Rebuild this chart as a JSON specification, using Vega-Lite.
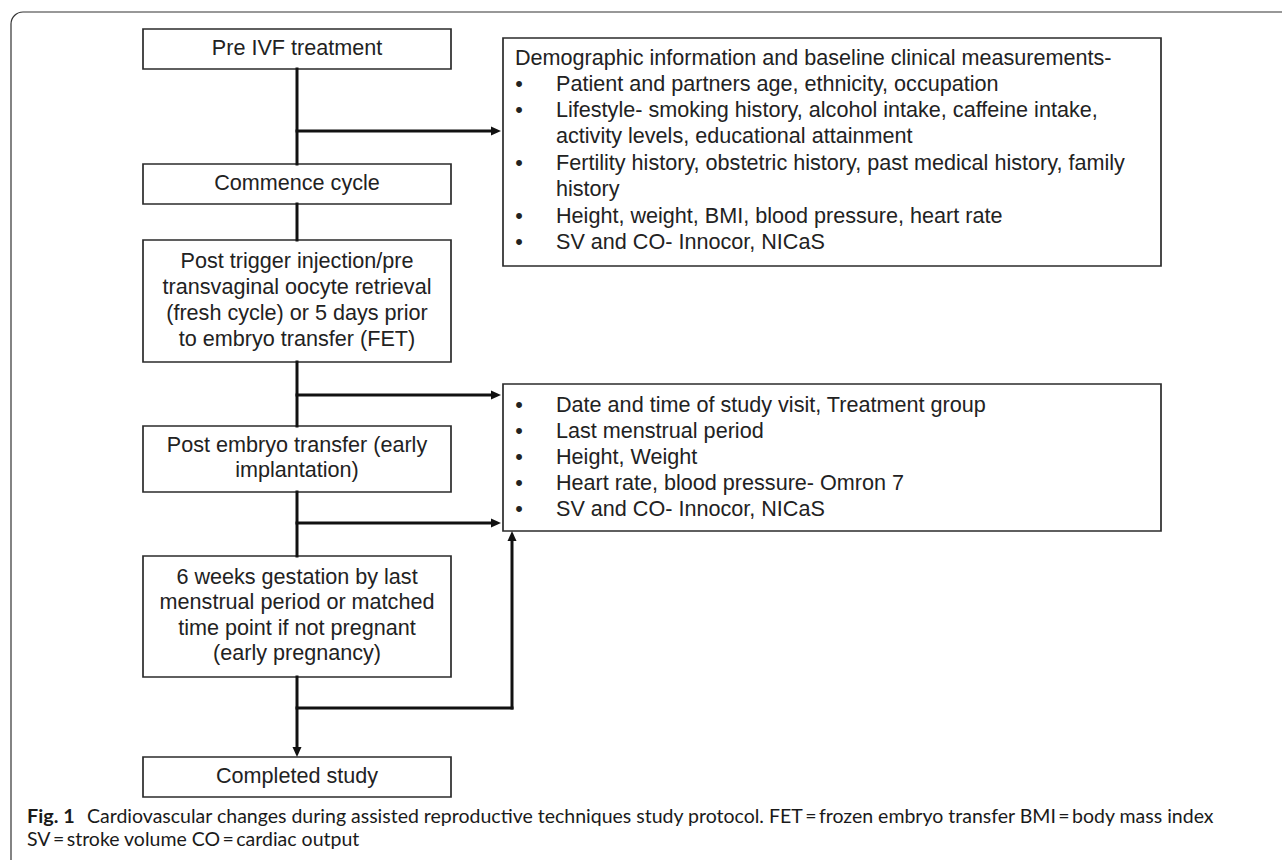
{
  "$schema": "https://vega.github.io/schema/vega-lite/v6.json",
  "width": 1282,
  "height": 860,
  "padding": 0,
  "autosize": {"type": "none"},
  "background": "white",
  "config": {"view": {"stroke": null}},
  "datasets": {
    "frame": [{"x1": 11, "x2": 1400, "y1": 12, "y2": 1000}],
    "boxes": [
      {"id": "b1", "x1": 143, "x2": 451, "y1": 29, "y2": 69},
      {"id": "b2", "x1": 143, "x2": 451, "y1": 164, "y2": 204},
      {"id": "b3", "x1": 143, "x2": 451, "y1": 240, "y2": 362},
      {"id": "b4", "x1": 143, "x2": 451, "y1": 426, "y2": 492},
      {"id": "b5", "x1": 143, "x2": 451, "y1": 556, "y2": 677},
      {"id": "b6", "x1": 143, "x2": 451, "y1": 757, "y2": 797},
      {"id": "r1", "x1": 503, "x2": 1161, "y1": 38, "y2": 266},
      {"id": "r2", "x1": 503, "x2": 1161, "y1": 384, "y2": 531}
    ],
    "lines": [
      {"x1": 297, "x2": 297, "y1": 69, "y2": 164},
      {"x1": 297, "x2": 492, "y1": 131, "y2": 131},
      {"x1": 297, "x2": 297, "y1": 204, "y2": 240},
      {"x1": 297, "x2": 297, "y1": 362, "y2": 426},
      {"x1": 297, "x2": 492, "y1": 395, "y2": 395},
      {"x1": 297, "x2": 297, "y1": 492, "y2": 556},
      {"x1": 297, "x2": 492, "y1": 523, "y2": 523},
      {"x1": 297, "x2": 297, "y1": 677, "y2": 749},
      {"x1": 297, "x2": 512, "y1": 708, "y2": 708},
      {"x1": 512, "x2": 512, "y1": 708, "y2": 540}
    ],
    "arrows": [
      {"x": 501, "y": 131, "dir": "right"},
      {"x": 501, "y": 395, "dir": "right"},
      {"x": 501, "y": 523, "dir": "right"},
      {"x": 297, "y": 757, "dir": "down"},
      {"x": 512, "y": 531, "dir": "up"}
    ],
    "ctext": [
      {"t": "Pre IVF treatment", "x": 297, "y": 49},
      {"t": "Commence cycle", "x": 297, "y": 184},
      {"t": "Post trigger injection/pre", "x": 297, "y": 262},
      {"t": "transvaginal oocyte retrieval", "x": 297, "y": 288},
      {"t": "(fresh cycle) or 5 days prior", "x": 297, "y": 314},
      {"t": "to embryo transfer (FET)", "x": 297, "y": 340},
      {"t": "Post embryo transfer (early", "x": 297, "y": 446},
      {"t": "implantation)", "x": 297, "y": 471},
      {"t": "6 weeks gestation by last", "x": 297, "y": 578},
      {"t": "menstrual period or matched", "x": 297, "y": 603},
      {"t": "time point if not pregnant", "x": 297, "y": 629},
      {"t": "(early pregnancy)", "x": 297, "y": 654},
      {"t": "Completed study", "x": 297, "y": 777}
    ],
    "ltext": [
      {"t": "Demographic information and baseline clinical measurements-", "x": 515, "y": 59},
      {"t": "Patient and partners age, ethnicity, occupation", "x": 556, "y": 85},
      {"t": "Lifestyle- smoking history, alcohol intake, caffeine intake,", "x": 556, "y": 111},
      {"t": "activity levels, educational attainment", "x": 556, "y": 137},
      {"t": "Fertility history, obstetric history, past medical history, family", "x": 556, "y": 164},
      {"t": "history", "x": 556, "y": 190},
      {"t": "Height, weight, BMI, blood pressure, heart rate", "x": 556, "y": 217},
      {"t": "SV and CO- Innocor, NICaS", "x": 556, "y": 243},
      {"t": "Date and time of study visit, Treatment group", "x": 556, "y": 406},
      {"t": "Last menstrual period", "x": 556, "y": 432},
      {"t": "Height, Weight", "x": 556, "y": 458},
      {"t": "Heart rate, blood pressure- Omron 7", "x": 556, "y": 484},
      {"t": "SV and CO- Innocor, NICaS", "x": 556, "y": 510}
    ],
    "bullets": [
      {"x": 519, "y": 85}, {"x": 519, "y": 111}, {"x": 519, "y": 164},
      {"x": 519, "y": 217}, {"x": 519, "y": 243},
      {"x": 519, "y": 406}, {"x": 519, "y": 432}, {"x": 519, "y": 458},
      {"x": 519, "y": 484}, {"x": 519, "y": 510}
    ],
    "capbold": [{"t": "Fig. 1", "x": 27, "y": 823}],
    "caption": [
      {"t": "Cardiovascular changes during assisted reproductive techniques study protocol. FET\u2009=\u2009frozen embryo transfer BMI\u2009=\u2009body mass index", "x": 87, "y": 823},
      {"t": "SV\u2009=\u2009stroke volume CO\u2009=\u2009cardiac output", "x": 27, "y": 846}
    ]
  },
  "layer": [
    {
      "data": {"name": "frame"},
      "mark": {"type": "rect", "fill": null, "fillOpacity": 0, "stroke": "#333333", "strokeWidth": 1.2, "cornerRadius": 12, "clip": true},
      "encoding": {
        "x": {"field": "x1", "type": "quantitative", "scale": {"domain": [0, 1282], "nice": false, "zero": false}, "axis": null},
        "x2": {"field": "x2"},
        "y": {"field": "y1", "type": "quantitative", "scale": {"domain": [0, 860], "nice": false, "zero": false, "reverse": true}, "axis": null},
        "y2": {"field": "y2"}
      }
    },
    {
      "data": {"name": "boxes"},
      "mark": {"type": "rect", "fill": "white", "stroke": "#2b2b2b", "strokeWidth": 1.7},
      "encoding": {
        "x": {"field": "x1", "type": "quantitative", "axis": null},
        "x2": {"field": "x2"},
        "y": {"field": "y1", "type": "quantitative", "axis": null},
        "y2": {"field": "y2"}
      }
    },
    {
      "data": {"name": "lines"},
      "mark": {"type": "rule", "color": "#111111", "strokeWidth": 3, "strokeCap": "square"},
      "encoding": {
        "x": {"field": "x1", "type": "quantitative", "axis": null},
        "x2": {"field": "x2"},
        "y": {"field": "y1", "type": "quantitative", "axis": null},
        "y2": {"field": "y2"}
      }
    },
    {
      "data": {"name": "arrows"},
      "mark": {"type": "point", "filled": true, "color": "#111111", "opacity": 1, "size": 400, "strokeWidth": 0},
      "encoding": {
        "x": {"field": "x", "type": "quantitative", "axis": null},
        "y": {"field": "y", "type": "quantitative", "axis": null},
        "shape": {"field": "dir", "type": "nominal", "legend": null,
          "scale": {"domain": ["right", "up", "down"], "range": ["M0,0L-1,-0.45L-1,0.45Z", "M0,0L-0.45,1L0.45,1Z", "M0,0L-0.45,-1L0.45,-1Z"]}}
      }
    },
    {
      "data": {"name": "ctext"},
      "mark": {"type": "text", "font": "Liberation Sans", "fontSize": 21.6, "align": "center", "baseline": "middle", "color": "#222222"},
      "encoding": {
        "x": {"field": "x", "type": "quantitative", "axis": null},
        "y": {"field": "y", "type": "quantitative", "axis": null},
        "text": {"field": "t"}
      }
    },
    {
      "data": {"name": "ltext"},
      "mark": {"type": "text", "font": "Liberation Sans", "fontSize": 21.6, "align": "left", "baseline": "middle", "color": "#222222"},
      "encoding": {
        "x": {"field": "x", "type": "quantitative", "axis": null},
        "y": {"field": "y", "type": "quantitative", "axis": null},
        "text": {"field": "t"}
      }
    },
    {
      "data": {"name": "bullets"},
      "mark": {"type": "text", "font": "Liberation Sans", "fontSize": 21.6, "align": "center", "baseline": "middle", "color": "#222222", "text": "•"},
      "encoding": {
        "x": {"field": "x", "type": "quantitative", "axis": null},
        "y": {"field": "y", "type": "quantitative", "axis": null}
      }
    },
    {
      "data": {"name": "capbold"},
      "mark": {"type": "text", "font": "Lato", "fontSize": 19.8, "fontWeight": "bold", "align": "left", "baseline": "alphabetic", "color": "#1a1a1a"},
      "encoding": {
        "x": {"field": "x", "type": "quantitative", "axis": null},
        "y": {"field": "y", "type": "quantitative", "axis": null},
        "text": {"field": "t"}
      }
    },
    {
      "data": {"name": "caption"},
      "mark": {"type": "text", "font": "Lato", "fontSize": 19.5, "align": "left", "baseline": "alphabetic", "color": "#1a1a1a"},
      "encoding": {
        "x": {"field": "x", "type": "quantitative", "axis": null},
        "y": {"field": "y", "type": "quantitative", "axis": null},
        "text": {"field": "t"}
      }
    }
  ]
}
